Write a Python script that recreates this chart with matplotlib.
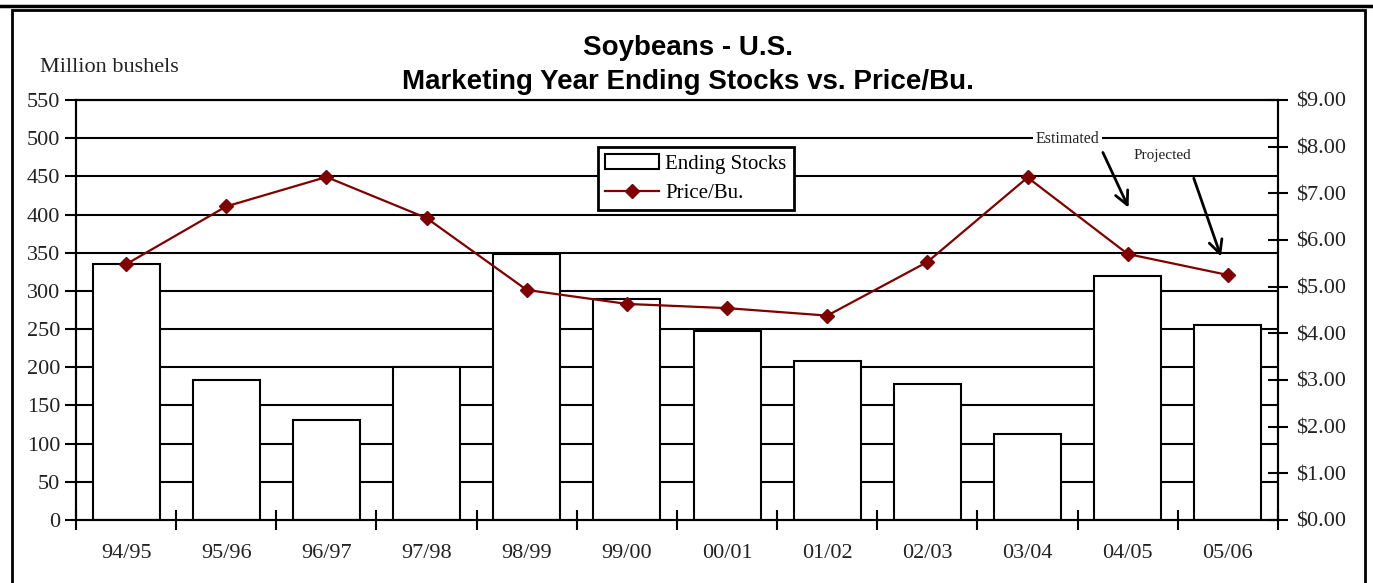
import matplotlib.pyplot as plt
import numpy as np

# marketing years, ending stocks (million bushels) and season-average price ($/bu)
years = ["94/95", "95/96", "96/97", "97/98", "98/99", "99/00",
         "00/01", "01/02", "02/03", "03/04", "04/05", "05/06"]
ending_stocks = [335, 183, 131, 200, 348, 290, 248, 208, 178, 112, 319, 255]
price = [5.48, 6.72, 7.35, 6.47, 4.93, 4.63, 4.54, 4.38, 5.53, 7.34, 5.70, 5.25]

serif = "Liberation Serif"
red = "#800000"

fig = plt.figure(figsize=(13.73, 5.83), dpi=100)
ax1 = fig.add_axes([76 / 1373, 1 - 520 / 583, 1202 / 1373, 420 / 583])
ax2 = ax1.twinx()
ax1.set_zorder(ax2.get_zorder() - 1)
ax2.patch.set_visible(False)

x = np.arange(len(years))

# gridlines under the bars
for v in range(50, 551, 50):
    ax1.axhline(v, color="black", lw=1.5, zorder=1)
bars = ax1.bar(x, ending_stocks, width=0.67, color="white", edgecolor="black",
               lw=1.5, zorder=2, label="Ending Stocks")
ax1.set_xlim(-0.5, len(years) - 0.5)
ax1.set_ylim(0, 550)
ax1.set_yticks(range(0, 551, 50))
ax1.set_xticks(x)
ax1.set_xticklabels(years)
ax1.set_xticks(np.arange(-0.5, len(years)), minor=True)
ax1.tick_params(axis="x", which="major", length=0, pad=17)
ax1.tick_params(axis="x", which="minor", direction="inout", length=14, width=1.5)
ax1.tick_params(axis="y", direction="out", length=8, width=1.5)
for lab in ax1.get_xticklabels() + ax1.get_yticklabels():
    lab.set_fontfamily(serif)
    lab.set_fontsize(16)
    lab.set_color("#222222")
for s in ax1.spines.values():
    s.set_linewidth(1.5)

line, = ax2.plot(x, price, color=red, lw=1.6, marker="D", markersize=7,
                 label="Price/Bu.", zorder=3)
ax2.set_ylim(0, 9)
ax2.set_yticks(np.arange(0, 9.01, 1))
ax2.set_yticklabels([f"${v:.2f}" for v in np.arange(0, 9.01, 1)])
ax2.tick_params(axis="y", direction="inout", length=14, width=1.5, pad=6)
for lab in ax2.get_yticklabels():
    lab.set_fontfamily(serif)
    lab.set_fontsize(16)
    lab.set_color("#222222")
for s in ax2.spines.values():
    s.set_linewidth(1.5)

leg = ax2.legend([bars, line], ["Ending Stocks", "Price/Bu."],
                 loc="upper left", bbox_to_anchor=(0.434, 0.888),
                 borderaxespad=0, prop={"family": serif, "size": 15},
                 frameon=True, framealpha=1, fancybox=False,
                 edgecolor="black", borderpad=0.35, handlelength=2.6,
                 handletextpad=0.3, labelspacing=0.45)
leg.get_frame().set_linewidth(2)
leg.set_zorder(5)

# annotations for the last two years
ax2.text(9.40, 8.16, "Estimated", fontfamily=serif, fontsize=11.5, ha="center",
         va="center", color="#222222",
         bbox=dict(facecolor="white", edgecolor="none", pad=2), zorder=6)
ax2.annotate("", xy=(10.02, 6.64), xytext=(9.74, 7.93),
             arrowprops=dict(arrowstyle="->", lw=2, color="black",
                             mutation_scale=24), zorder=6)
ax2.text(10.35, 7.82, "Projected", fontfamily=serif, fontsize=11, ha="center",
         va="center", color="#222222", zorder=6)
ax2.annotate("", xy=(10.94, 5.59), xytext=(10.65, 7.38),
             arrowprops=dict(arrowstyle="->", lw=2, color="black",
                             mutation_scale=24), zorder=6)

fig.text(688 / 1373, 1 - 48 / 583, "Soybeans - U.S.", ha="center", va="center",
         fontfamily="Liberation Sans", fontweight="bold", fontsize=20)
fig.text(688 / 1373, 1 - 82 / 583, "Marketing Year Ending Stocks vs. Price/Bu.",
         ha="center", va="center", fontfamily="Liberation Sans",
         fontweight="bold", fontsize=20)
fig.text(40 / 1373, 1 - 68 / 583, "Million bushels", ha="left", va="center",
         fontfamily=serif, fontsize=16, color="#222222")

# outer frame
fig.add_artist(plt.Line2D([0, 1], [1 - 6 / 583] * 2, color="black", lw=2.5))
fig.add_artist(plt.Rectangle((12 / 1373, -0.05), (1365 - 12) / 1373,
                             1 - 10 / 583 + 0.05, fill=False, edgecolor="black",
                             lw=2))

fig.savefig("out.png", dpi=100)
